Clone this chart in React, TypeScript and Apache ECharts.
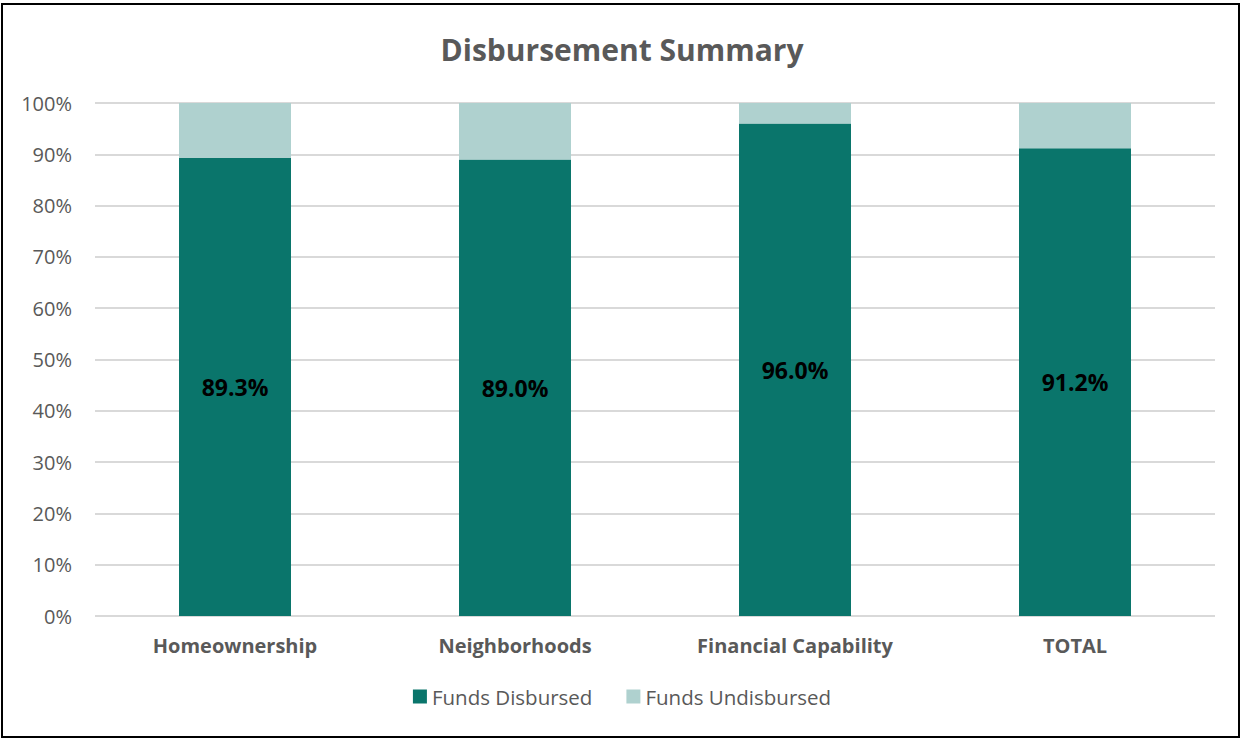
import React, { useEffect, useRef } from "react";
import * as echarts from "echarts";

const categories = ["Homeownership", "Neighborhoods", "Financial Capability", "TOTAL"];
const disbursed = [89.3, 89.0, 96.0, 91.2];
const undisbursed = [10.7, 11.0, 4.0, 8.8];
const yTicks = [0, 10, 20, 30, 40, 50, 60, 70, 80, 90, 100];

const FONT = "'Open Sans', Lato, sans-serif";
const GRAY = "#595959";

export default function App() {
  const ref = useRef<HTMLDivElement>(null);
  useEffect(() => {
    if (!ref.current) return;
    const chart = echarts.init(ref.current, undefined, { renderer: "svg" });
    chart.setOption({
      animation: false,
      backgroundColor: "#ffffff",
      textStyle: { fontFamily: FONT },
      title: {
        text: "Disbursement Summary",
        left: "center",
        top: 29,
        textStyle: { fontFamily: FONT, fontSize: 30, fontWeight: "bold", color: GRAY },
      },
      graphic: [
        {
          type: "rect",
          shape: { x: 2, y: 4, width: 1237, height: 733 },
          style: { fill: "none", stroke: "#000", lineWidth: 2 },
          silent: true,
          z: -1,
        },
      ],
      legend: {
        bottom: 26,
        left: "center",
        itemWidth: 14,
        itemHeight: 14,
        itemGap: 34,
        icon: "rect",
        textStyle: { fontFamily: FONT, fontSize: 20.5, color: GRAY },
        data: ["Funds Disbursed", "Funds Undisbursed"],
      },
      grid: { left: 95, right: 29, top: 103, bottom: 122, containLabel: false },
      xAxis: {
        type: "category",
        data: categories,
        axisLine: { show: false },
        axisTick: { show: false },
        axisLabel: { fontFamily: FONT, fontSize: 20, fontWeight: "bold", color: GRAY, margin: 19 },
      },
      yAxis: {
        type: "value",
        min: 0,
        max: 100,
        interval: 10,
        axisLine: { show: false },
        axisTick: { show: false },
        splitLine: { lineStyle: { color: "#d9d9d9", width: 2 } },
        axisLabel: {
          fontFamily: FONT,
          fontSize: 20,
          color: GRAY,
          margin: 23,
          customValues: yTicks,
          formatter: (v: number) => v + "%",
        },
      },
      series: [
        {
          name: "Funds Disbursed",
          type: "bar",
          stack: "total",
          barWidth: "40%",
          data: disbursed,
          itemStyle: { color: "#0a756b" },
          label: {
            show: true,
            position: "inside",
            fontFamily: FONT,
            fontSize: 23,
            fontWeight: "bold",
            color: "#000",
            formatter: (p: any) => p.value.toFixed(1) + "%",
          },
        },
        {
          name: "Funds Undisbursed",
          type: "bar",
          stack: "total",
          barWidth: "40%",
          data: undisbursed,
          itemStyle: { color: "#afd1cf" },
        },
      ],
    });
    return () => chart.dispose();
  }, []);
  return (
    <div
      ref={ref}
      style={{ position: "absolute", left: 0, top: 0, width: 1244, height: 738 }}
    />
  );
}
